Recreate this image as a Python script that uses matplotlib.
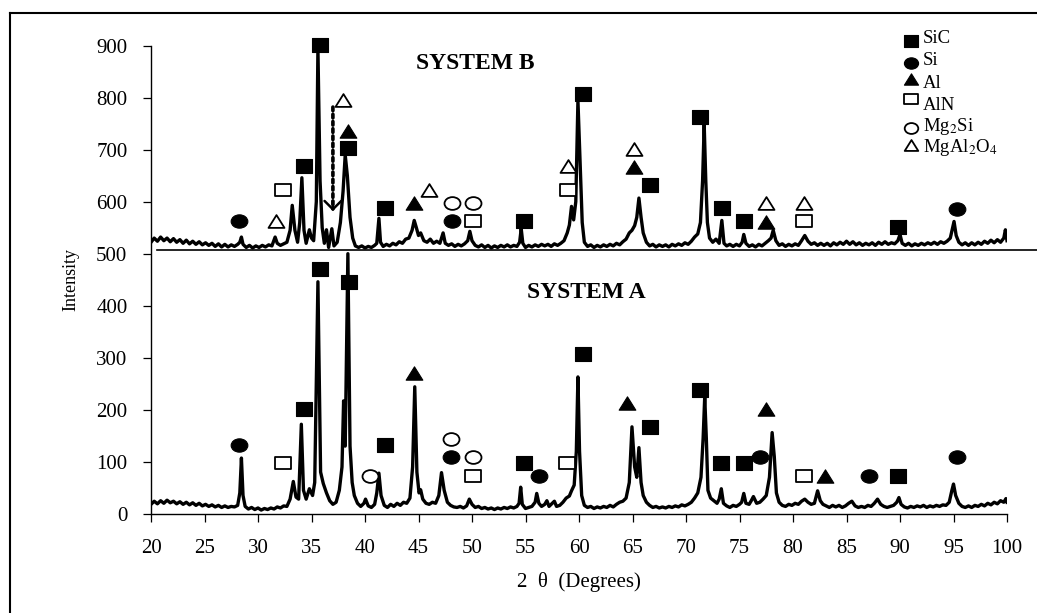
import matplotlib
matplotlib.use("Agg")
import matplotlib.pyplot as plt
from matplotlib.path import Path
from matplotlib.lines import Line2D
import numpy as np

plt.rcParams['font.family'] = ['Liberation Serif', 'DejaVu Serif']
plt.rcParams['mathtext.fontset'] = 'stix'

# ---------------- data ----------------
two_theta_a = [20.0, 20.3, 20.6, 20.9, 21.2, 21.5, 21.8, 22.1, 22.4, 22.7, 23.0, 23.3, 23.6, 23.9, 24.2, 24.5, 24.8, 25.1, 25.4, 25.7,
               26.0, 26.3, 26.6, 26.9, 27.2, 27.5, 27.8, 28.1, 28.3, 28.45, 28.6, 28.8, 29.1, 29.4, 29.7, 30.0, 30.3, 30.6, 30.9, 31.2,
               31.5, 31.8, 32.1, 32.4, 32.7, 33.0, 33.3, 33.55, 33.8, 34.05, 34.25, 34.5, 34.8, 35.1, 35.3, 35.6, 35.85, 36.1, 36.4, 36.7,
               37.0, 37.3, 37.6, 37.85, 38.0, 38.15, 38.4, 38.6, 38.8, 39.0, 39.3, 39.6, 39.9, 40.05, 40.3, 40.6, 40.9, 41.1, 41.3, 41.5,
               41.8, 42.1, 42.4, 42.7, 43.0, 43.3, 43.6, 43.9, 44.2, 44.45, 44.65, 44.85, 45.05, 45.2, 45.4, 45.7, 46.0, 46.3, 46.6, 46.9,
               47.15, 47.4, 47.7, 48.0, 48.3, 48.6, 48.9, 49.2, 49.5, 49.75, 50.0, 50.3, 50.6, 50.9, 51.2, 51.5, 51.8, 52.1, 52.4, 52.7,
               53.0, 53.3, 53.6, 53.9, 54.2, 54.4, 54.55, 54.7, 55.0, 55.3, 55.6, 55.9, 56.05, 56.25, 56.5, 56.8, 57.0, 57.2, 57.5, 57.7,
               57.9, 58.2, 58.5, 58.8, 59.1, 59.3, 59.55, 59.75, 59.9, 60.05, 60.25, 60.5, 60.8, 61.1, 61.4, 61.7, 62.0, 62.3, 62.6, 62.9,
               63.2, 63.5, 63.8, 64.1, 64.4, 64.7, 64.95, 65.2, 65.4, 65.6, 65.8, 66.0, 66.3, 66.6, 66.9, 67.2, 67.5, 67.8, 68.1, 68.4,
               68.7, 69.0, 69.3, 69.6, 69.9, 70.2, 70.5, 70.8, 71.1, 71.4, 71.6, 71.75, 71.9, 72.05, 72.3, 72.6, 72.9, 73.1, 73.3, 73.5,
               73.8, 74.1, 74.4, 74.7, 75.0, 75.2, 75.4, 75.6, 75.9, 76.1, 76.3, 76.6, 76.9, 77.2, 77.5, 77.8, 78.05, 78.25, 78.45, 78.7,
               79.0, 79.3, 79.6, 79.9, 80.2, 80.5, 80.8, 81.1, 81.4, 81.7, 82.0, 82.3, 82.55, 82.8, 83.1, 83.4, 83.7, 84.0, 84.3, 84.6,
               84.9, 85.2, 85.5, 85.8, 86.1, 86.4, 86.7, 87.0, 87.3, 87.6, 87.9, 88.2, 88.5, 88.8, 89.1, 89.4, 89.7, 89.9, 90.1, 90.4,
               90.7, 91.0, 91.3, 91.6, 91.9, 92.2, 92.5, 92.8, 93.1, 93.4, 93.7, 94.0, 94.3, 94.6, 94.85, 95.0, 95.2, 95.5, 95.8, 96.1,
               96.4, 96.7, 97.0, 97.3, 97.6, 97.9, 98.2, 98.5, 98.8, 99.1, 99.4, 99.7, 99.9, 100.0]
intensity_a = [18, 24, 19, 25, 20, 26, 21, 24, 19, 23, 18, 22, 17, 21, 16, 20, 15, 18, 14, 17,
               13, 16, 12, 15, 12, 14, 13, 16, 40, 107, 35, 14, 9, 12, 8, 11, 7, 10, 8, 11,
               9, 13, 11, 15, 14, 28, 62, 32, 28, 172, 45, 28, 48, 35, 60, 446, 80, 58, 40, 25,
               18, 22, 45, 90, 217, 130, 500, 130, 60, 35, 20, 14, 20, 28, 15, 12, 18, 40, 78, 35,
               16, 12, 18, 14, 20, 16, 22, 20, 30, 90, 244, 80, 40, 46, 28, 20, 18, 22, 20, 35,
               79, 45, 22, 16, 13, 12, 14, 11, 15, 28, 18, 12, 14, 10, 12, 9, 11, 8, 11, 9,
               12, 10, 13, 11, 14, 20, 51, 18, 10, 12, 14, 22, 39, 20, 14, 18, 25, 14, 20, 24,
               14, 16, 22, 30, 34, 44, 55, 120, 263, 120, 35, 16, 12, 14, 10, 13, 11, 14, 12, 16,
               13, 18, 22, 24, 30, 60, 167, 90, 70, 127, 60, 35, 22, 16, 12, 14, 11, 13, 11, 14,
               12, 15, 13, 17, 15, 18, 22, 30, 40, 70, 145, 225, 145, 45, 30, 25, 20, 28, 48, 20,
               15, 12, 16, 14, 18, 22, 39, 20, 18, 25, 33, 20, 22, 28, 35, 70, 156, 110, 40, 22,
               16, 14, 18, 16, 20, 18, 24, 28, 22, 18, 20, 44, 25, 18, 15, 12, 16, 13, 16, 12,
               15, 20, 24, 15, 12, 14, 12, 16, 14, 20, 28, 18, 14, 12, 14, 16, 22, 31, 18, 13,
               11, 14, 12, 15, 13, 16, 12, 15, 13, 16, 14, 17, 16, 22, 45, 57, 35, 20, 14, 12,
               15, 12, 16, 14, 18, 15, 20, 17, 22, 19, 25, 22, 29, 22]

two_theta_b = [20.0, 20.3, 20.6, 20.9, 21.2, 21.5, 21.8, 22.1, 22.4, 22.7, 23.0, 23.3, 23.6, 23.9, 24.2, 24.5, 24.8, 25.1, 25.4, 25.7,
               26.0, 26.3, 26.6, 26.9, 27.2, 27.5, 27.8, 28.1, 28.3, 28.45, 28.6, 28.9, 29.2, 29.5, 29.8, 30.1, 30.4, 30.7, 31.0, 31.3,
               31.6, 31.8, 32.1, 32.4, 32.7, 33.0, 33.2, 33.45, 33.7, 33.9, 34.1, 34.3, 34.5, 34.8, 35.0, 35.2, 35.45, 35.6, 35.8, 36.0,
               36.2, 36.4, 36.6, 36.9, 37.1, 37.4, 37.7, 37.95, 38.15, 38.35, 38.6, 38.85, 39.1, 39.4, 39.7, 40.0, 40.3, 40.6, 40.9, 41.1,
               41.3, 41.45, 41.7, 42.0, 42.3, 42.6, 42.9, 43.2, 43.5, 43.8, 44.1, 44.4, 44.6, 44.8, 45.0, 45.2, 45.5, 45.8, 46.1, 46.4,
               46.7, 47.0, 47.3, 47.5, 47.8, 48.1, 48.4, 48.7, 49.0, 49.3, 49.6, 49.8, 50.0, 50.3, 50.6, 50.9, 51.2, 51.5, 51.8, 52.1,
               52.4, 52.7, 53.0, 53.3, 53.6, 53.9, 54.2, 54.45, 54.6, 54.75, 55.0, 55.3, 55.6, 55.9, 56.2, 56.5, 56.8, 57.1, 57.4, 57.7,
               58.0, 58.3, 58.6, 58.9, 59.1, 59.3, 59.5, 59.7, 59.9, 60.1, 60.3, 60.5, 60.8, 61.1, 61.4, 61.7, 62.0, 62.3, 62.6, 62.9,
               63.2, 63.5, 63.8, 64.1, 64.4, 64.7, 64.95, 65.2, 65.4, 65.6, 65.8, 66.0, 66.3, 66.6, 66.9, 67.2, 67.5, 67.8, 68.1, 68.4,
               68.7, 69.0, 69.3, 69.6, 69.9, 70.2, 70.5, 70.8, 71.1, 71.35, 71.55, 71.7, 71.85, 72.0, 72.2, 72.5, 72.8, 73.1, 73.35, 73.55,
               73.8, 74.1, 74.4, 74.7, 75.0, 75.25, 75.4, 75.6, 75.9, 76.2, 76.5, 76.8, 77.1, 77.4, 77.7, 77.95, 78.15, 78.4, 78.7, 79.0,
               79.3, 79.6, 79.9, 80.2, 80.5, 80.8, 81.1, 81.4, 81.7, 82.0, 82.3, 82.6, 82.9, 83.2, 83.5, 83.8, 84.1, 84.4, 84.7, 85.0,
               85.3, 85.6, 85.9, 86.2, 86.5, 86.8, 87.1, 87.4, 87.7, 88.0, 88.3, 88.6, 88.9, 89.2, 89.5, 89.8, 90.0, 90.2, 90.5, 90.8,
               91.1, 91.4, 91.7, 92.0, 92.3, 92.6, 92.9, 93.2, 93.5, 93.8, 94.1, 94.4, 94.7, 94.9, 95.05, 95.25, 95.5, 95.8, 96.1, 96.4,
               96.7, 97.0, 97.3, 97.6, 97.9, 98.2, 98.5, 98.8, 99.1, 99.4, 99.7, 99.85, 100.0]
intensity_b = [522, 530, 524, 532, 525, 530, 523, 529, 522, 527, 520, 526, 519, 524, 518, 523, 517, 521, 516, 520,
               514, 519, 513, 518, 513, 517, 514, 518, 522, 532, 518, 512, 516, 511, 515, 512, 516, 513, 517, 515,
               532, 520, 516, 519, 522, 545, 593, 545, 522, 560, 646, 545, 520, 546, 530, 525, 600, 895, 640, 550,
               520, 546, 512, 548, 515, 522, 560, 620, 690, 650, 570, 530, 515, 512, 515, 511, 514, 512, 516, 520,
               568, 522, 514, 518, 515, 520, 517, 523, 520, 528, 530, 545, 564, 550, 535, 540, 525, 522, 528, 520,
               524, 520, 540, 520, 516, 519, 514, 518, 515, 519, 525, 543, 525, 516, 513, 517, 512, 516, 511, 515,
               512, 516, 513, 517, 513, 516, 514, 522, 548, 520, 512, 516, 513, 517, 514, 518, 515, 518, 514, 519,
               516, 520, 525, 540, 555, 591, 565, 600, 795, 680, 560, 522, 514, 517, 512, 516, 513, 517, 514, 518,
               515, 520, 517, 523, 528, 540, 545, 554, 570, 607, 570, 540, 522, 515, 518, 513, 517, 514, 517, 513,
               518, 515, 519, 516, 521, 518, 524, 532, 538, 560, 640, 749, 640, 560, 530, 522, 528, 520, 564, 520,
               515, 518, 514, 518, 515, 522, 537, 520, 514, 517, 513, 518, 515, 520, 525, 530, 545, 525, 516, 519,
               514, 518, 515, 519, 516, 525, 535, 524, 518, 521, 516, 520, 516, 520, 515, 521, 517, 522, 518, 524,
               518, 523, 517, 521, 516, 520, 517, 521, 516, 522, 518, 523, 518, 521, 519, 525, 537, 520, 516, 520,
               515, 519, 516, 520, 517, 521, 518, 522, 518, 523, 520, 524, 530, 548, 562, 535, 522, 517, 521, 516,
               521, 517, 522, 518, 524, 520, 526, 521, 527, 522, 530, 546, 525]

baseline_b = 507

# phase labels
phase_names = ['SiC', 'Si', 'Al', 'AlN', 'Mg$_2$Si', 'MgAl$_2$O$_4$']

sic_b_x = [35.8, 34.3, 38.4, 41.9, 54.9, 60.4, 66.6, 71.3, 73.4, 75.4, 89.8]
sic_b_y = [902, 668, 703, 587, 562, 807, 632, 762, 587, 562, 551]
si_b_x = [28.2, 48.1, 95.3]
si_b_y = [562, 562, 586]
al_b_x = [38.4, 44.6, 65.1, 77.5]
al_b_y = [736, 597, 667, 561]
aln_b_x = [32.3, 50.1, 59.0, 81.0]
aln_b_y = [622, 562, 622, 562]
mg2si_b_x = [48.1, 50.1]
mg2si_b_y = [597, 597]
spinel_b_x = [31.7, 37.9, 46.0, 59.0, 65.1, 77.5, 81.0]
spinel_b_y = [562, 795, 622, 668, 702, 597, 597]

sic_a_x = [34.3, 35.8, 38.5, 41.9, 54.9, 60.4, 66.6, 71.3, 73.3, 75.4, 89.8]
sic_a_y = [202, 471, 446, 133, 97, 308, 167, 237, 97, 98, 73]
si_a_x = [28.2, 48.0, 56.3, 76.9, 87.1, 95.3]
si_a_y = [133, 109, 73, 109, 73, 109]
al_a_x = [44.6, 64.5, 77.5, 83.0]
al_a_y = [270, 212, 202, 73]
aln_a_x = [32.3, 50.1, 58.9, 81.0]
aln_a_y = [98, 73, 97, 73]
mg2si_a_x = [40.5, 48.0, 50.1]
mg2si_a_y = [73, 144, 109]

arrow_x = 37.0
arrow_top = 782
arrow_bottom = 582

x_ticks = list(range(20, 101, 5))
y_ticks = list(range(0, 901, 100))

# ---------------- marker shapes ----------------
def rect_path(h):
    return Path([(-1, -h), (1, -h), (1, h), (-1, h), (-1, -h)],
                [Path.MOVETO, Path.LINETO, Path.LINETO, Path.LINETO, Path.CLOSEPOLY])

def ellipse_path(h):
    c = Path.unit_circle()
    v = c.vertices.copy()
    v[:, 1] *= h
    return Path(v, c.codes)

def tri_path(h):
    return Path([(0, h), (-1, -h), (1, -h), (0, h)],
                [Path.MOVETO, Path.LINETO, Path.LINETO, Path.CLOSEPOLY])

sq_f = rect_path(0.86)
sq_o = rect_path(0.80)
circ = ellipse_path(0.80)
tri = tri_path(0.80)

styles = {
    'SiC': dict(marker=sq_f, mfc='black', mec='black', ms=12.0, mew=0.8),
    'Si': dict(marker=circ, mfc='black', mec='black', ms=12.0, mew=0.8),
    'Al': dict(marker=tri, mfc='black', mec='black', ms=12.0, mew=0.8),
    'AlN': dict(marker=sq_o, mfc='white', mec='black', ms=11.5, mew=1.3),
    'Mg2Si': dict(marker=circ, mfc='white', mec='black', ms=11.5, mew=1.3),
    'MgAl2O4': dict(marker=tri, mfc='white', mec='black', ms=11.5, mew=1.3),
}

# ---------------- figure ----------------
W, H = 1037, 613
fig = plt.figure(figsize=(W / 100, H / 100), dpi=100)
ax = fig.add_axes([151 / W, 1 - 513.7 / H, (1007 - 151) / W, (513.7 - 45.7) / H])
ax.set_xlim(20, 100)
ax.set_ylim(0, 900)

ax.plot(two_theta_a, intensity_a, color='black', lw=2.4, solid_joinstyle='round', zorder=3)
ax.plot(two_theta_b, intensity_b, color='black', lw=2.4, solid_joinstyle='round', zorder=3)
ax.plot([20.6, 102.9], [baseline_b, baseline_b], color='black', lw=1.2, clip_on=False, zorder=2)

def put(xs, ys, key):
    ax.plot(xs, ys, ls='none', clip_on=False, zorder=5, **styles[key])

put(sic_b_x, sic_b_y, 'SiC'); put(si_b_x, si_b_y, 'Si'); put(al_b_x, al_b_y, 'Al')
put(aln_b_x, aln_b_y, 'AlN'); put(mg2si_b_x, mg2si_b_y, 'Mg2Si'); put(spinel_b_x, spinel_b_y, 'MgAl2O4')
put(sic_a_x, sic_a_y, 'SiC'); put(si_a_x, si_a_y, 'Si'); put(al_a_x, al_a_y, 'Al')
put(aln_a_x, aln_a_y, 'AlN'); put(mg2si_a_x, mg2si_a_y, 'Mg2Si')

# dotted arrow
ax.annotate('', xy=(arrow_x, arrow_bottom + 4), xytext=(arrow_x, arrow_top),
            arrowprops=dict(arrowstyle='-', ls=(0, (1, 1)), lw=2.6, color='black',
                            shrinkA=0, shrinkB=0), zorder=4)
ax.annotate('', xy=(arrow_x, arrow_bottom), xytext=(arrow_x, arrow_bottom + 20),
            arrowprops=dict(arrowstyle='->,head_length=0.6,head_width=0.6', lw=1.8, color='black',
                            shrinkA=0, shrinkB=0), zorder=4)

ax.text(50.3, 865, 'SYSTEM B', ha='center', va='center', fontsize=17, fontweight='bold')
ax.text(60.65, 425, 'SYSTEM A', ha='center', va='center', fontsize=17, fontweight='bold')

# axes styling
for s in ['top', 'right']:
    ax.spines[s].set_visible(False)
for s in ['left', 'bottom']:
    ax.spines[s].set_linewidth(1.0)
ax.set_xticks(x_ticks)
ax.set_yticks(y_ticks)
ax.tick_params(axis='x', direction='out', length=5.5, width=0.9, pad=13, labelsize=15)
ax.tick_params(axis='y', direction='out', length=6, width=0.9, pad=11, labelsize=15)
ax.set_xlabel('2  θ  (Degrees)', fontsize=15, labelpad=10)
ax.set_ylabel('Intensity', fontsize=13, labelpad=12)

# legend (manual, figure pixel positions)
leg_keys = ['SiC', 'Si', 'Al', 'AlN', 'Mg2Si', 'MgAl2O4']
leg_marker_y = [41, 63, 79, 99, 128, 145]
leg_text_base = [43, 65, 88, 110, 131, 152]
for key, name, my, ty in zip(leg_keys, phase_names, leg_marker_y, leg_text_base):
    st = dict(styles[key])
    st['ms'] = st['ms'] * 0.85
    fig.add_artist(Line2D([911 / W], [1 - my / H], transform=fig.transFigure, ls='none', **st))
    fig.text(923 / W, 1 - ty / H, name, fontsize=13.5, ha='left', va='baseline')

# outer frame (left and top)
fig.add_artist(Line2D([10 / W, 10 / W], [0, 1 - 12.5 / H], transform=fig.transFigure, color='black', lw=1.5))
fig.add_artist(Line2D([10 / W, 1], [1 - 12.5 / H, 1 - 12.5 / H], transform=fig.transFigure, color='black', lw=1.5))

fig.savefig('out.png', dpi=100)
